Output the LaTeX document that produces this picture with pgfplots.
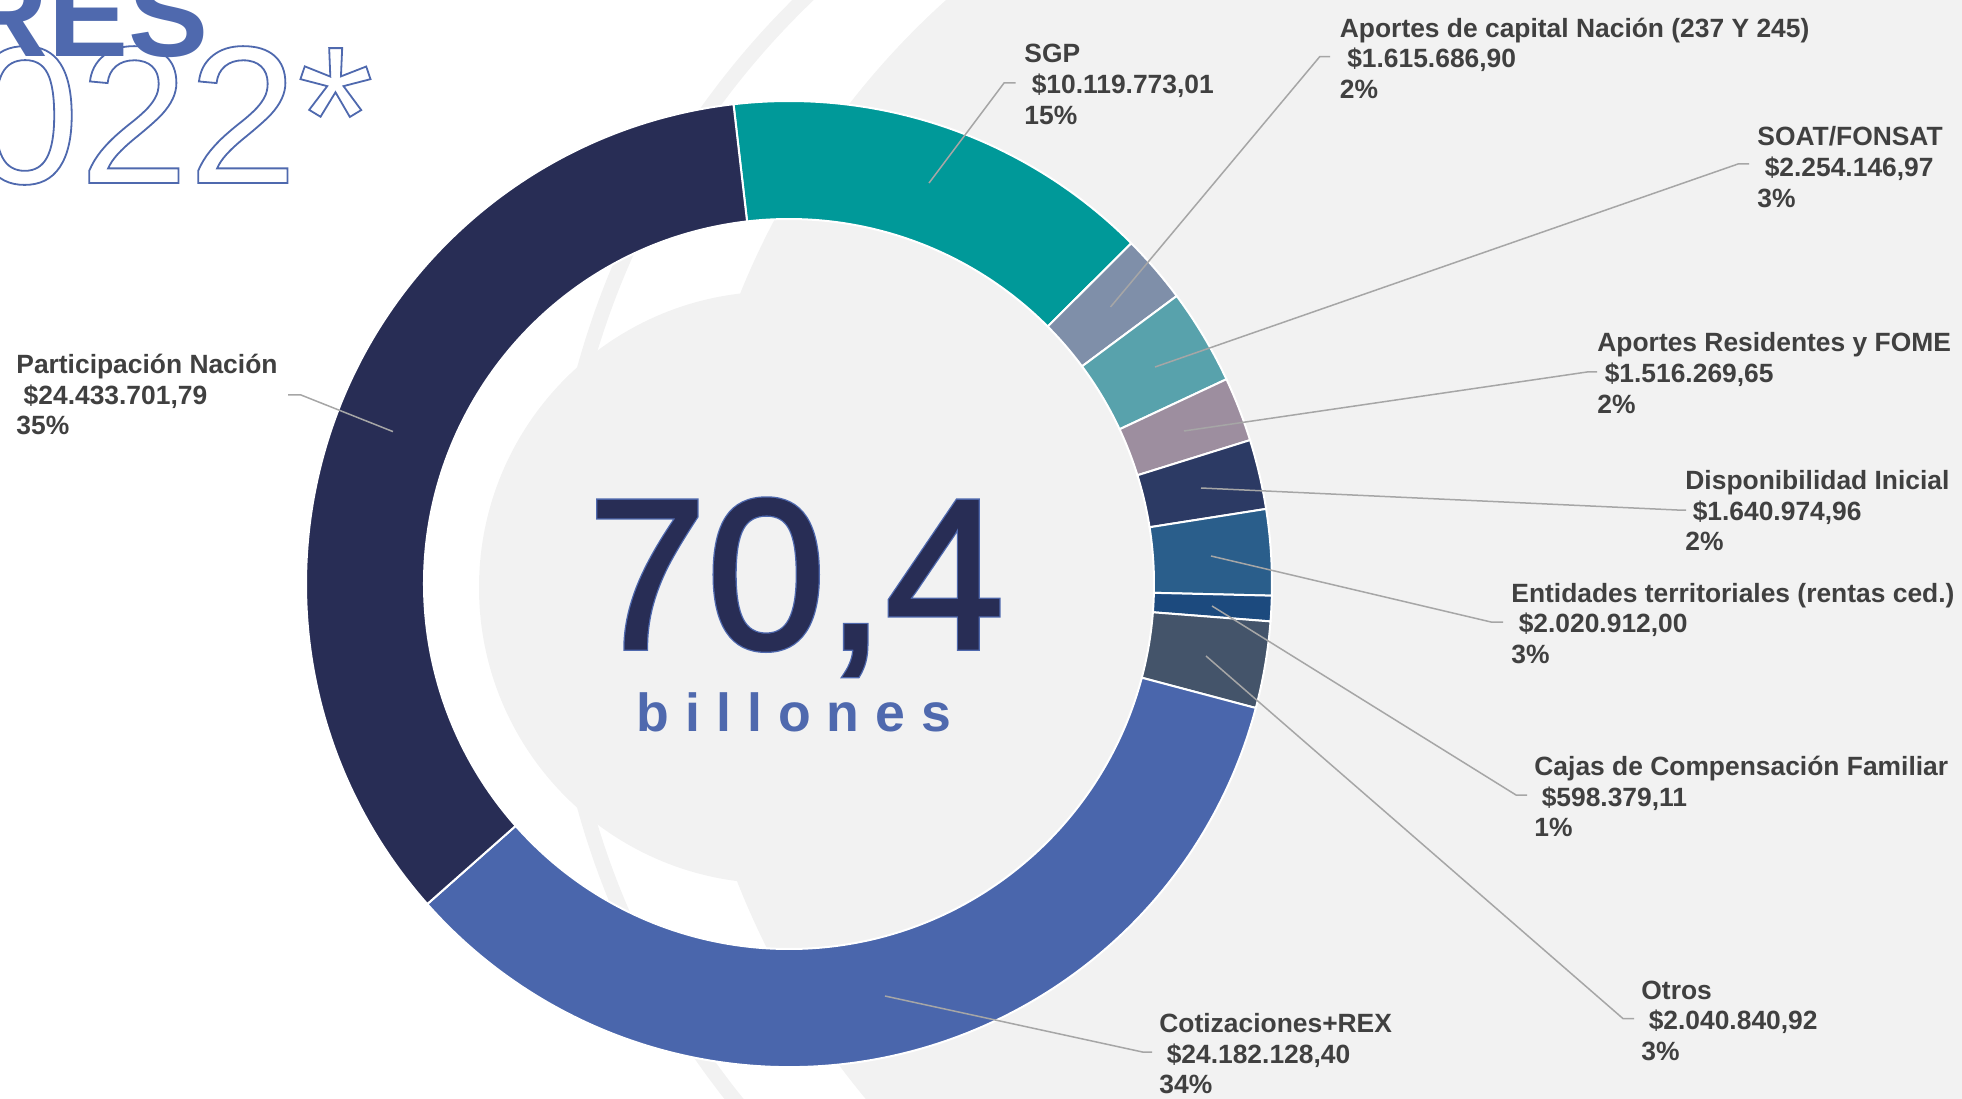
\documentclass[border=0pt]{standalone}
\usepackage{pgfplots}
\pgfplotsset{compat=1.18}
\usepackage{pgfplotstable}
\usepackage{fontspec}
\setmainfont{Liberation Sans}
\definecolor{bg}{HTML}{F2F2F2}
\definecolor{lblgray}{HTML}{404040}
\definecolor{leadgray}{HTML}{A6A6A6}
\definecolor{titleblue}{HTML}{4F69AE}
\definecolor{navytext}{HTML}{282D55}
\definecolor{bilblue}{HTML}{4F69AE}
% slice colours, in the order of the table below
\definecolor{c0}{HTML}{009999}
\definecolor{c1}{HTML}{7F8FA9}
\definecolor{c2}{HTML}{58A2AC}
\definecolor{c3}{HTML}{9D8E9F}
\definecolor{c4}{HTML}{2C3A64}
\definecolor{c5}{HTML}{2A5E8B}
\definecolor{c6}{HTML}{1C4A7E}
\definecolor{c7}{HTML}{44546A}
\definecolor{c8}{HTML}{4A66AC}
\definecolor{c9}{HTML}{282D55}
% values in billones (SGP, Aportes capital, SOAT, Aportes Residentes, Disponibilidad,
% Entidades territoriales, Cajas, Otros, Cotizaciones+REX, Participacion Nacion)
\pgfplotstableread{
v
10.11977301
1.61568690
2.25414697
1.51626965
1.64097496
2.02091200
0.59837911
2.04084092
24.18212840
24.43370179
}\slices
\tikzset{
  lbl/.style={anchor=base west, inner sep=0pt, align=left, text=lblgray,
    font=\bfseries\fontsize{13.2pt}{15.3pt}\selectfont},
}
\begin{document}
\begin{tikzpicture}
\begin{axis}[scale only axis, width=981pt, height=549pt,
  xmin=0, xmax=1962, ymin=0, ymax=1098, hide axis, clip=false,
  at={(0,0)}, anchor=south west]
% decorative background
\fill[bg] (axis cs:1477.5,506.75) circle[radius=397.5pt];
\draw[bg, line width=7.5pt] (axis cs:1375,510.5) circle[radius=410pt];
\fill[bg] (axis cs:775,510.5) circle[radius=148pt];
% donut slices from the table
\def\ang{96.6}
\pgfplotsforeachungrouped \i in {0,...,9}{%
  \pgfplotstablegetelem{\i}{v}\of\slices
  \pgfmathsetmacro\sweep{360*\pgfplotsretval/70.42281371}%
  \pgfmathsetmacro\endang{\ang-\sweep}%
  \edef\cmd{\noexpand\fill[c\i, draw=white, line width=1pt]
    (axis cs:{789+483*cos(\ang)},{514+483*sin(\ang)})
    arc[start angle=\ang, end angle=\endang, radius=241.5pt]
    -- (axis cs:{789+365*cos(\endang)},{514+365*sin(\endang)})
    arc[start angle=\endang, end angle=\ang, radius=182.5pt] -- cycle;}%
  \cmd
  \global\let\ang\endang
}
% leader lines
\addplot[leadgray, line width=0.75pt, mark=none] coordinates {(929,915) (1004,1015) (1015.5,1015)};
\addplot[leadgray, line width=0.75pt, mark=none] coordinates {(1110.5,791) (1319.7,1041.3) (1330,1041.3)};
\addplot[leadgray, line width=0.75pt, mark=none] coordinates {(1155,731) (1738,934) (1749,934)};
\addplot[leadgray, line width=0.75pt, mark=none] coordinates {(1184,667) (1587,726) (1597,726)};
\addplot[leadgray, line width=0.75pt, mark=none] coordinates {(1201,610) (1677,588) (1686,588)};
\addplot[leadgray, line width=0.75pt, mark=none] coordinates {(1211,542) (1491,476) (1503,476)};
\addplot[leadgray, line width=0.75pt, mark=none] coordinates {(1212,492) (1516,303) (1527,303)};
\addplot[leadgray, line width=0.75pt, mark=none] coordinates {(1206,442) (1623,79.4) (1634,79.4)};
\addplot[leadgray, line width=0.75pt, mark=none] coordinates {(885,102) (1142.5,46) (1152,46)};
\addplot[leadgray, line width=0.75pt, mark=none] coordinates {(393,666.4) (301,703) (288,703)};
% labels (anchor = baseline of the last line)
\node[lbl] at (axis cs:1024,973.8) {SGP\\\ \$10.119.773,01\\15\%};
\node[lbl] at (axis cs:1339.5,999.5) {Aportes de capital Nación (237 Y 245)\\\ \$1.615.686,90\\2\%};
\node[lbl] at (axis cs:1757,890.8) {SOAT/FONSAT\\\ \$2.254.146,97\\3\%};
\node[lbl] at (axis cs:1597,684.8) {Aportes Residentes y FOME\\\ \$1.516.269,65\\2\%};
\node[lbl] at (axis cs:1685,547.3) {Disponibilidad Inicial\\\ \$1.640.974,96\\2\%};
\node[lbl] at (axis cs:1511,434.8) {Entidades territoriales (rentas ced.)\\\ \$2.020.912,00\\3\%};
\node[lbl] at (axis cs:1534,261.3) {Cajas de Compensación Familiar\\\ \$598.379,11\\1\%};
\node[lbl] at (axis cs:1641,37.8) {Otros\\\ \$2.040.840,92\\3\%};
\node[lbl] at (axis cs:1159,4.3) {Cotizaciones+REX\\\ \$24.182.128,40\\34\%};
\node[lbl] at (axis cs:16,663.2) {Participación Nación\\\ \$24.433.701,79\\35\%};
% centre text: blue rim, then navy body on top
\node[anchor=base, inner sep=0pt, font=\fontsize{107pt}{107pt}\selectfont] at (axis cs:796,449.7)
  {\color{titleblue}\special{pdf:literal direct 2 Tr 2.6 w}70,4\special{pdf:literal direct 0 Tr}};
\node[anchor=base, inner sep=0pt, font=\fontsize{107pt}{107pt}\selectfont] at (axis cs:796,449.7)
  {\color{navytext}\special{pdf:literal direct 2 Tr 1.3 w}70,4\special{pdf:literal direct 0 Tr}};
\node[anchor=base, inner sep=0pt, text=bilblue, font=\bfseries\fontsize{26.8pt}{26.8pt}\selectfont] at (axis cs:794,366.3)
  {b\kern8pt i\kern8pt l\kern8pt l\kern8pt o\kern8pt n\kern8pt e\kern8pt s};
% title fragments
\node[anchor=base west, inner sep=0pt, font=\fontsize{98pt}{98pt}\selectfont] at (axis cs:-139,915)
  {\color{titleblue}\special{pdf:literal direct 1 Tr 0.9 w}2022*\special{pdf:literal direct 0 Tr}};
\node[anchor=base east, inner sep=0pt, text=titleblue, font=\bfseries\fontsize{60pt}{60pt}\selectfont] at (axis cs:209,1041) {RES};
\end{axis}
\pgfresetboundingbox
\path[use as bounding box] (0,0) rectangle (981pt,549pt);
\end{tikzpicture}
\end{document}
